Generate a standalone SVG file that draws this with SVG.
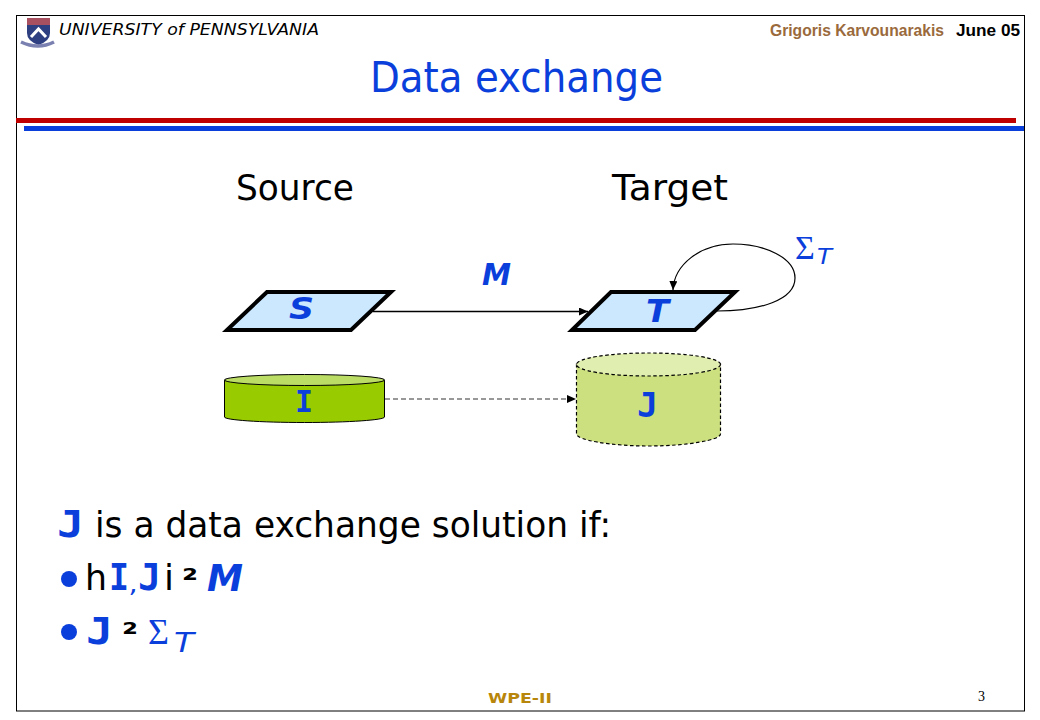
<svg xmlns="http://www.w3.org/2000/svg" width="1040" height="720" viewBox="0 0 1040 720">
<style>
text{font-family:"DejaVu Sans","Liberation Sans",sans-serif}
.b{fill:#0b3fdc}
.k{fill:#000}
.bold{font-weight:700}
.it{font-style:italic}
.para{fill:#cce8ff;stroke:#000;stroke-width:4;stroke-linejoin:miter}
.slab{font-family:"DejaVu Sans Mono","Liberation Mono",monospace;font-weight:700}
.head{font-family:"Liberation Sans",Arial,sans-serif;font-weight:700}
.sigma{font-family:"Liberation Serif","DejaVu Serif",serif}
.num{font-family:"Liberation Serif","DejaVu Serif",serif}
</style>
<defs>
<marker id="ah" markerWidth="9" markerHeight="8" refX="9" refY="4" orient="auto" markerUnits="userSpaceOnUse"><path d="M0 0L9 4L0 8Z" fill="#000"/></marker>
</defs>
<rect width="1040" height="720" fill="#fff"/>
<rect x="16.500" y="15.500" width="1008" height="695.500" fill="none" stroke="#000" stroke-width="1"/>
<rect x="16" y="118" width="1000" height="5" fill="#c00000"/>
<rect x="24" y="126" width="1000" height="5" fill="#0b3fdc"/>
<g id="logo">
<path d="M27 18H50V33Q50 41 38.500 45Q27 41 27 33Z" fill="#2d3f80"/>
<rect x="27" y="18" width="23" height="7" fill="#a85060"/>
<path d="M31 37L38.500 29L46 37" fill="none" stroke="#fff" stroke-width="3"/>
<path d="M21 42Q38 50 54 42" fill="none" stroke="#7a80b0" stroke-width="3.500"/>
</g>
<text x="59" y="35" font-size="15.500" class="it k" textLength="260" lengthAdjust="spacingAndGlyphs">UNIVERSITY of PENNSYLVANIA</text>
<text x="770" y="36" font-size="16" class="head" fill="#9a6a3c" textLength="174" lengthAdjust="spacingAndGlyphs">Grigoris Karvounarakis</text>
<text x="956" y="36" font-size="16" class="head k" textLength="64" lengthAdjust="spacingAndGlyphs">June 05</text>
<text x="370" y="92" font-size="42" class="b" textLength="293" lengthAdjust="spacingAndGlyphs">Data exchange</text>
<text x="236" y="200" font-size="36" class="k" textLength="118" lengthAdjust="spacingAndGlyphs">Source</text>
<text x="612" y="200" font-size="36" class="k" textLength="116" lengthAdjust="spacingAndGlyphs">Target</text>
<g id="node-S"><polygon class="para" points="267,292 391,292 351,330 227,330"/><text x="289" y="319" font-size="30" class="b bold it" textLength="25" lengthAdjust="spacingAndGlyphs">S</text></g>
<g id="node-T"><polygon class="para" points="611,292 735,292 695,330 572,330"/><text x="646" y="322" font-size="32" class="b bold it" textLength="23" lengthAdjust="spacingAndGlyphs">T</text></g>
<g id="node-I">
<path d="M224.500 380V417C224.500 420 260 422.500 304.500 422.500S384.500 420 384.500 417V380Z" fill="#99cc00" stroke="#000" stroke-width="1"/>
<ellipse cx="304.500" cy="380" rx="80" ry="5.500" fill="#bbdd66" stroke="#000" stroke-width="1"/>
<text x="295" y="412" font-size="30" class="b slab" textLength="18" lengthAdjust="spacingAndGlyphs">I</text>
</g>
<g id="node-J">
<path d="M576.500 364V434C576.500 440 610 446 648.500 446S720.500 440 720.500 434V364Z" fill="#cce080" stroke="#000" stroke-width="1.200" stroke-dasharray="3.500 2.500"/>
<ellipse cx="648.500" cy="364.500" rx="72" ry="11.500" fill="#e0eeb0" stroke="#000" stroke-width="1.200" stroke-dasharray="3.500 2.500"/>
<text x="637" y="417" font-size="33" class="b slab" textLength="21" lengthAdjust="spacingAndGlyphs">J</text>
</g>
<g id="connectors" fill="none" stroke="#000">
<path d="M373 311.500H588" stroke-width="1.500" marker-end="url(#ah)"/>
<path d="M717 311C760 311 795 300 795 278C795 258 765 244 733 244C700 244 674 265 673 290" stroke-width="1.200" marker-end="url(#ah)"/>
<path d="M385 399H576" stroke="#333" stroke-width="1.200" stroke-dasharray="5 3" marker-end="url(#ah)"/>
</g>
<text x="482" y="285" font-size="30" class="b bold it" textLength="29" lengthAdjust="spacingAndGlyphs">M</text>
<text x="795" y="259" font-size="34" class="b sigma">Σ</text>
<text x="817" y="264" font-size="21" class="b it" textLength="15" lengthAdjust="spacingAndGlyphs">T</text>
<text x="57" y="537" font-size="38" class="b slab" textLength="27" lengthAdjust="spacingAndGlyphs">J</text>
<text x="95" y="537" font-size="36" class="k" textLength="516" lengthAdjust="spacingAndGlyphs">is a data exchange solution if:</text>
<circle cx="69" cy="579" r="8" fill="#0b3fdc"/>
<text x="85" y="590" font-size="36" class="k" textLength="22" lengthAdjust="spacingAndGlyphs">h</text>
<text x="109" y="590" font-size="37" class="b slab" textLength="20" lengthAdjust="spacingAndGlyphs">I</text>
<text x="131" y="592" font-size="18" class="b bold it" textLength="6" lengthAdjust="spacingAndGlyphs">,</text>
<text x="138" y="590" font-size="37" class="b slab" textLength="23" lengthAdjust="spacingAndGlyphs">J</text>
<text x="164" y="590" font-size="36" class="k" textLength="10" lengthAdjust="spacingAndGlyphs">i</text>
<text x="182" y="590" font-size="30" class="bold k" textLength="16" lengthAdjust="spacingAndGlyphs">²</text>
<text x="207" y="591" font-size="38" class="b bold it" textLength="36" lengthAdjust="spacingAndGlyphs">M</text>
<circle cx="69" cy="632" r="8" fill="#0b3fdc"/>
<text x="86" y="644" font-size="38" class="b slab" textLength="27" lengthAdjust="spacingAndGlyphs">J</text>
<text x="122" y="644" font-size="30" class="bold k" textLength="16" lengthAdjust="spacingAndGlyphs">²</text>
<text x="148" y="644" font-size="36" class="b sigma">Σ</text>
<text x="174" y="652" font-size="26" class="b it" textLength="20" lengthAdjust="spacingAndGlyphs">T</text>
<text x="488" y="703" font-size="14" class="bold" fill="#b8860b" textLength="64" lengthAdjust="spacingAndGlyphs">WPE-II</text>
<text x="978" y="701" font-size="14" class="k num">3</text>
</svg>
